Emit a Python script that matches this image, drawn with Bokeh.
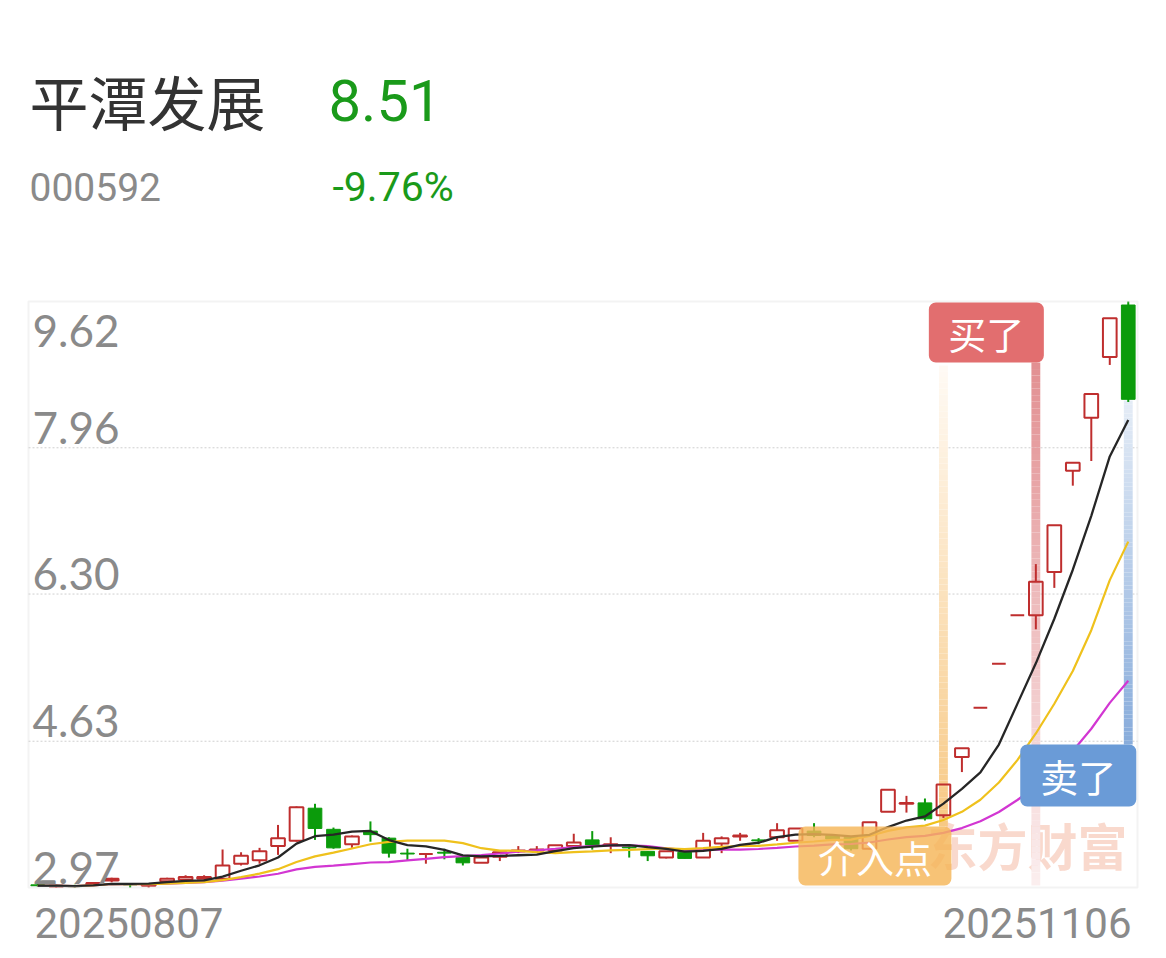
import numpy as np
import pandas as pd
from bokeh.plotting import figure
from bokeh.models import Range1d, Label, BoxAnnotation
from bokeh.core.properties import value
from bokeh.embed import file_html
from bokeh.resources import INLINE

# ---- quote header ----
stock_name = "平潭发展"
stock_code = "000592"
last_price = "8.51"
change_pct = "-9.76%"
start_date = "20250807"
end_date = "20251106"

# ---- daily OHLC, 60 sessions ----
opens = [3.00, 2.98, 2.99, 3.00, 3.05, 3.01, 2.99, 3.04, 3.06, 3.07,
         3.07, 3.24, 3.28, 3.44, 3.50, 3.87, 3.63, 3.46, 3.61, 3.53,
         3.36, 3.35, 3.37, 3.31, 3.25, 3.32, 3.38, 3.39, 3.39, 3.44,
         3.51, 3.45, 3.43, 3.38, 3.31, 3.37, 3.31, 3.47, 3.55, 3.51,
         3.54, 3.50, 3.61, 3.56, 3.54, 3.41, 3.83, 3.92, 3.93, 3.79,
         4.45, 5.01, 5.51, 6.06, 6.06, 6.55, 7.70, 8.30, 8.99, 9.58]
highs = [3.01, 3.00, 3.00, 3.03, 3.08, 3.02, 3.00, 3.08, 3.11, 3.11,
         3.40, 3.37, 3.42, 3.68, 3.89, 3.92, 3.65, 3.56, 3.72, 3.54,
         3.41, 3.36, 3.41, 3.32, 3.31, 3.37, 3.44, 3.44, 3.45, 3.58,
         3.61, 3.54, 3.44, 3.38, 3.38, 3.37, 3.59, 3.55, 3.59, 3.53,
         3.70, 3.64, 3.70, 3.57, 3.55, 3.71, 4.08, 4.01, 3.98, 4.14,
         4.55, 5.01, 5.51, 6.06, 6.64, 7.08, 7.79, 8.57, 9.43, 9.62]
lows = [2.98, 2.97, 2.97, 2.99, 3.03, 2.97, 2.97, 3.03, 3.05, 3.06,
        3.06, 3.22, 3.24, 3.34, 3.49, 3.51, 3.41, 3.42, 3.49, 3.31,
        3.28, 3.24, 3.29, 3.22, 3.25, 3.27, 3.36, 3.37, 3.39, 3.44,
        3.40, 3.36, 3.31, 3.27, 3.30, 3.30, 3.31, 3.36, 3.50, 3.46,
        3.50, 3.50, 3.54, 3.50, 3.39, 3.40, 3.83, 3.82, 3.73, 3.76,
        4.28, 5.01, 5.51, 6.06, 5.90, 6.37, 7.53, 7.81, 8.90, 8.48]
closes = [2.99, 2.99, 2.98, 3.02, 3.07, 3.00, 3.00, 3.07, 3.09, 3.09,
          3.22, 3.33, 3.38, 3.53, 3.88, 3.64, 3.42, 3.55, 3.57, 3.36,
          3.35, 3.35, 3.36, 3.25, 3.31, 3.37, 3.39, 3.40, 3.45, 3.48,
          3.45, 3.46, 3.42, 3.33, 3.38, 3.30, 3.50, 3.53, 3.56, 3.50,
          3.62, 3.64, 3.56, 3.52, 3.41, 3.71, 4.08, 3.93, 3.75, 4.14,
          4.55, 5.01, 5.51, 6.06, 6.44, 7.08, 7.79, 8.57, 9.43, 8.51]

y_ticks = [2.97, 4.63, 6.30, 7.96, 9.62]

# signal sessions
entry_idx = 49   # 介入点
buy_idx = 54     # 买了
sell_idx = 59    # 卖了

RED = "#bf2e2e"
GREEN = "#0b9b0b"
GREY = "#8a8a8a"
TEXT_GREEN = "#1a9a1a"
CJK = "Noto Sans CJK SC"

# page geometry: the price panel sits inside the full canvas
W, H = 1166, 958
PL, PR, PT, PB = 28, 1137, 301, 887          # price panel edges, px
n = len(closes)
y0, y1 = y_ticks[0], y_ticks[-1]
step = (PR - PL) / n                          # px per session
ppu = (PB - PT) / (y1 - y0)                   # px per price unit

x_lo = -0.5 - PL / step
x_hi = n - 0.5 + (W - PR) / step
p = figure(width=W, height=H,
           x_range=Range1d(x_lo, x_hi),
           y_range=Range1d(y0 - (H - PB) / ppu, y1 + PT / ppu),
           x_axis_location=None, y_axis_location=None, toolbar_location=None,
           output_backend="svg", min_border=0)
p.xgrid.grid_line_color = None
p.ygrid.grid_line_color = None
p.background_fill_color = "white"
p.border_fill_color = "white"
p.outline_line_color = None


def sx(i):
    """session index -> page px"""
    return PL + (i + 0.5) * step


def price_at(page_y):
    return y1 - (np.asarray(page_y, dtype=float) - PT) / ppu


# dotted price grid
mids = y_ticks[1:-1]
p.segment(x0=[-0.5] * len(mids), y0=mids, x1=[n - 0.5] * len(mids), y1=mids,
          line_color="#cfcfcf", line_dash="2 2", line_width=1)


def mix(c1, c2, t):
    a = [int(c1[k:k + 2], 16) for k in (1, 3, 5)]
    b = [int(c2[k:k + 2], 16) for k in (1, 3, 5)]
    return "#%02x%02x%02x" % tuple(round(a[j] + (b[j] - a[j]) * t) for j in range(3))


def gradient_band(i, top_y, bot_y, c_top, c_bot, steps=80, half=0.24):
    edges = price_at(np.linspace(top_y, bot_y, steps + 1))
    cols = [mix(c_top, c_bot, t) for t in np.linspace(0, 1, steps)]
    p.quad(left=i - half, right=i + half, top=edges[:-1], bottom=edges[1:],
           fill_color=cols, line_color=None)


# watermark
p.add_layout(Label(x=927, y=H - 843, x_units="screen", y_units="screen",
                   text="东方财富", text_font=CJK, text_font_style="bold", text_font_size="50px",
                   text_color="#f8d0c0", text_alpha=0.8, text_baseline="middle",
                   text_align="left", level="underlay"))

# signal bands
gradient_band(entry_idx, 365, 826, "#fffaf4", "#f7c985")
gradient_band(buy_idx, 362, 885, "#e29092", "#fbeeee")
gradient_band(sell_idx, 400, 744, "#e4ecf6", "#88acdb")

# ---- candles ----
idx = np.arange(n)
o = np.array(opens); c = np.array(closes); h = np.array(highs); l = np.array(lows)
up = c >= o
btop = np.maximum(o, c); bbot = np.minimum(o, c)
bw = 0.74

p.segment(idx[up], h[up], idx[up], btop[up], line_color=RED, line_width=2)
p.segment(idx[up], bbot[up], idx[up], l[up], line_color=RED, line_width=2)
p.quad(left=idx[up] - bw / 2, right=idx[up] + bw / 2, top=btop[up], bottom=bbot[up],
       fill_color=None, line_color=RED, line_width=2)
p.segment(idx[~up], h[~up], idx[~up], l[~up], line_color=GREEN, line_width=2)
p.quad(left=idx[~up] - bw / 2, right=idx[~up] + bw / 2, top=btop[~up], bottom=bbot[~up],
       fill_color=GREEN, line_color=GREEN, line_width=1)

# ---- moving averages ----
s = pd.Series(closes)
p.line(idx, s.rolling(20, min_periods=1).mean(), line_color="#d236d2", line_width=2.2)
p.line(idx, s.rolling(10, min_periods=1).mean(), line_color="#efc11c", line_width=2.2)
p.line(idx, s.rolling(5, min_periods=1).mean(), line_color="#262626", line_width=2.3)

# panel border
p.add_layout(BoxAnnotation(left=-0.5, right=n - 0.5, bottom=y0, top=y1,
                           fill_alpha=0, line_color="#d8d8d8", line_width=2))

# ---- price labels inside the panel ----
p.text(x=[-0.5], y=[y_ticks[-1]], text=["%.2f" % y_ticks[-1]], x_offset=4, y_offset=13,
       text_font=value("Lato"), text_font_size="44px", text_color=GREY,
       text_baseline="top", text_align="left")
p.text(x=[-0.5] * 4, y=y_ticks[:-1], text=["%.2f" % t for t in y_ticks[:-1]], x_offset=4,
       y_offset=-4, text_font=value("Lato"), text_font_size="44px", text_color=GREY,
       text_baseline="bottom", text_align="left")


# ---- signal tags ----
def tag(i, text, top_y, bot_y, width, color, alpha, size):
    right = sx(i) + 8
    left = right - width
    p.add_layout(BoxAnnotation(left=left, right=right, top=H - top_y, bottom=H - bot_y,
                               left_units="screen", right_units="screen", top_units="screen",
                               bottom_units="screen", fill_color=color, fill_alpha=alpha,
                               line_color=None, border_radius=7))
    p.add_layout(Label(x=(left + right) / 2, y=H - (top_y + bot_y) / 2,
                       x_units="screen", y_units="screen", text=text, text_font=CJK,
                       text_font_size=size, text_color="white", text_align="center",
                       text_baseline="middle"))


tag(entry_idx, "介入点", 826, 885, 153, "#f5b658", 0.82, "38px")
tag(buy_idx, "买了", 302, 362, 115, "#e26e6f", 1.0, "38px")
tag(sell_idx, "卖了", 744, 806, 116, "#6a9bd7", 1.0, "38px")


# ---- header and date labels ----
def page_text(x, y, text, font, size, color, align="left"):
    p.add_layout(Label(x=x, y=H - y, x_units="screen", y_units="screen", text=text,
                       text_font=font, text_font_size=size, text_color=color,
                       text_align=align, text_baseline="middle"))


page_text(29, 100, stock_name, CJK, "59px", "#333333")
page_text(328, 100, last_price, "Roboto", "58px", TEXT_GREEN)
page_text(29, 186, stock_code, "Roboto", "39px", GREY)
page_text(332, 186, change_pct, "Roboto", "41px", TEXT_GREEN)
page_text(34, 922, start_date, "Roboto", "42px", GREY)
page_text(1131, 922, end_date, "Roboto", "42px", GREY, align="right")

open("out.html", "w").write(file_html(p, INLINE))
